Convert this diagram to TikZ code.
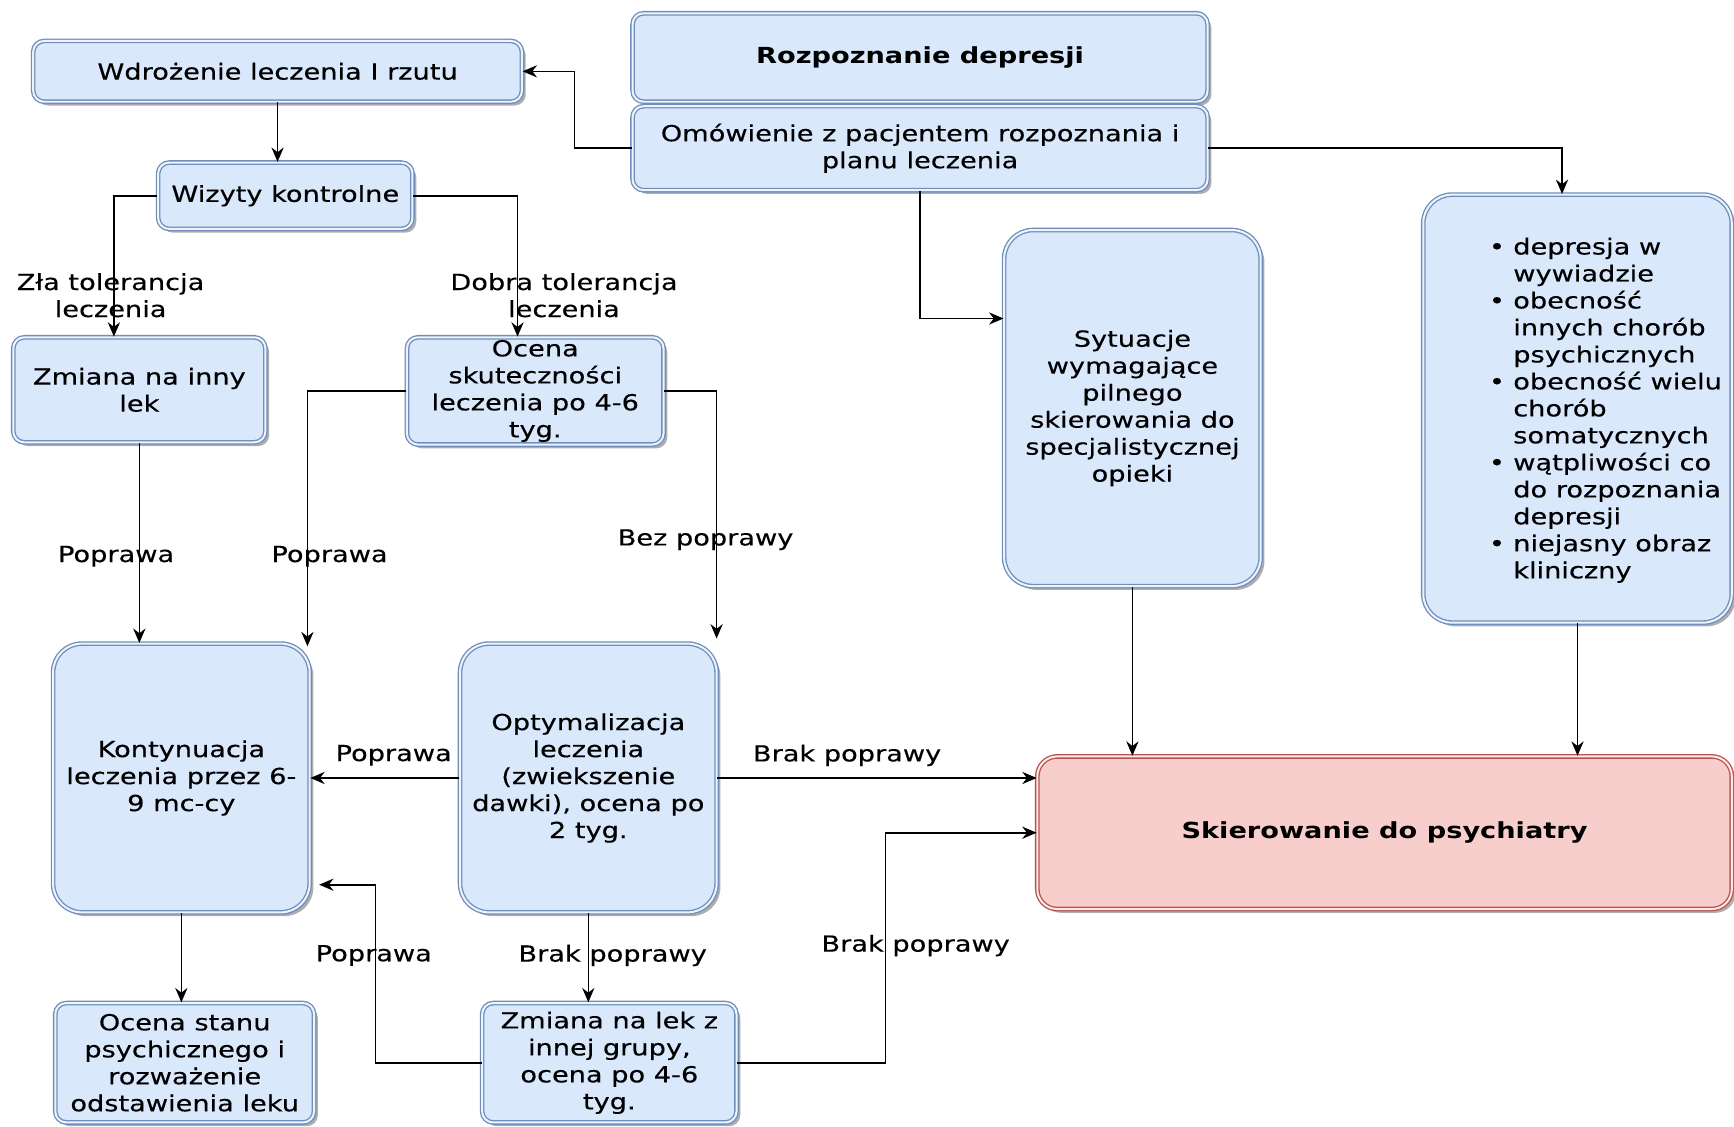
\documentclass[tikz,border=0pt]{standalone}
\usepackage{fontspec}
\setmainfont{DejaVu Sans}[FakeStretch=1.23, UprightFeatures={FakeBold=0.3}]
\usetikzlibrary{arrows.meta,shadows,calc}
\definecolor{bfill}{HTML}{DAE8FC}
\definecolor{bline}{HTML}{6F8FBA}
\definecolor{binner}{HTML}{EEF4FD}
\definecolor{rfill}{HTML}{F8CECC}
\definecolor{rline}{HTML}{B85450}
\definecolor{rinner}{HTML}{FCEAE9}
\tikzset{
  box/.style={draw=bline, double=binner, double distance=0.9pt, line width=0.6pt,
    fill=bfill, align=center, inner sep=0pt, rounded corners=5pt,
    font=\fontsize{10}{12.2}\selectfont,
    drop shadow={shadow xshift=1.7pt, shadow yshift=-1.7pt, fill=black, opacity=0.32}},
  tallbox/.style={box, rounded corners=13pt},
  redbox/.style={box, draw=rline, double=rinner, fill=rfill, rounded corners=9pt},
  arr/.style={-{Stealth[length=6.5pt,width=5.5pt]}, line width=0.75pt},
  lbl/.style={align=center, inner sep=0pt, font=\fontsize{10}{12.2}\selectfont}
}
\begin{document}
\begin{tikzpicture}[x=0.5pt,y=-0.5pt]
\useasboundingbox[fill=white] (0,0) rectangle (1568,1019);

% nodes
\node[box, minimum width=260pt, minimum height=40pt, font=\fontsize{10}{12.2}\selectfont\bfseries] (rozp) at (832,52) {Rozpoznanie depresji};
\node[box, minimum width=260pt, minimum height=38pt] (omow) at (832,134) {Omówienie z pacjentem rozpoznania i\\planu leczenia};
\node[box, minimum width=221pt, minimum height=27.5pt] (wdroz) at (251,64.5) {Wdrożenie leczenia I rzutu};
\node[box, minimum width=115pt, minimum height=30pt] (wiz) at (258,177) {Wizyty kontrolne};
\node[box, minimum width=114pt, minimum height=47.5pt] (zmi) at (126,352.5) {Zmiana na inny\\lek};
\node[box, minimum width=116pt, minimum height=48.5pt] (ocena) at (484,353.5) {Ocena\\skuteczności\\leczenia po 4-6\\tyg.};
\node[tallbox, minimum width=116pt, minimum height=121.5pt] (kont) at (164,703.5) {Kontynuacja\\leczenia przez 6-\\9 mc-cy};
\node[tallbox, minimum width=116pt, minimum height=121.5pt] (optym) at (532,703.5) {Optymalizacja\\leczenia\\(zwiekszenie\\dawki), ocena po\\2 tyg.};
\node[tallbox, minimum width=116pt, minimum height=161pt] (syt) at (1024,369) {Sytuacje\\wymagające\\pilnego\\skierowania do\\specjalistycznej\\opieki};
\node[tallbox, minimum width=139.5pt, minimum height=193.5pt] (bul) at (1426.5,369.5) {};
\node[lbl, anchor=west, align=left] (bultxt) at (1346,371) {%
\makebox[11pt][l]{•}depresja w\\
\hspace*{11pt}wywiadzie\\
\makebox[11pt][l]{•}obecność\\
\hspace*{11pt}innych chorób\\
\hspace*{11pt}psychicznych\\
\makebox[11pt][l]{•}obecność wielu\\
\hspace*{11pt}chorób\\
\hspace*{11pt}somatycznych\\
\makebox[11pt][l]{•}wątpliwości co\\
\hspace*{11pt}do rozpoznania\\
\hspace*{11pt}depresji\\
\makebox[11pt][l]{•}niejasny obraz\\
\hspace*{11pt}kliniczny};
\node[redbox, minimum width=314pt, minimum height=69pt, font=\fontsize{10}{12.2}\selectfont\bfseries] (skier) at (1252,753) {Skierowanie do psychiatry};
\node[box, minimum width=117pt, minimum height=54pt] (ocst) at (167,961) {Ocena stanu\\psychicznego i\\rozważenie\\odstawienia leku};
\node[box, minimum width=115pt, minimum height=54pt] (zmlek) at (551,961) {Zmiana na lek z\\innej grupy,\\ocena po 4-6\\tyg.};

% connectors
\draw[arr] (omow.west) -- ++(-52,0) |- (wdroz.east);
\draw[arr] (omow.east) -| ([xshift=-7pt]bul.north);
\draw[arr] (omow.south) |- ([yshift=40.5pt]syt.west);
\draw[arr] (wdroz.south) -- (wdroz.south |- wiz.north);
\draw[arr] (wiz.west) -| ([xshift=-11.5pt]zmi.north);
\draw[arr] (wiz.east) -| ([xshift=-8pt]ocena.north);
\draw[arr] (zmi.south) -- (zmi.south |- kont.north);
\draw[arr] (ocena.west) -| ([xshift=57pt,yshift=-1.5pt]kont.north);
\draw[arr] (ocena.east) -| ([xshift=58pt,yshift=2pt]optym.north);
\draw[arr] (optym.west) -- (kont.east);
\draw[arr] (optym.east) -- (optym.east -| skier.west);
\draw[arr] (syt.south) -- (syt.south |- skier.north);
\draw[arr] (bul.south) -- (bul.south |- skier.north);
\draw[arr] (kont.south) -- (kont.south |- ocst.north);
\draw[arr] (optym.south) -- (optym.south |- zmlek.north);
\draw[arr] (zmlek.west) -- ++(-96,0) |- ([xshift=4pt,yshift=-48.25pt]kont.east);
\draw[arr] (zmlek.east) -- ++(134,0) |- (skier.west);

% labels
\node[lbl] (l1) at (100,267) {Zła tolerancja\\leczenia};
\node[lbl] (l2) at (510,267) {Dobra tolerancja\\leczenia};
\node[lbl] (l3) at (105,503) {Poprawa};
\node[lbl] (l4) at (298,503) {Poprawa};
\node[lbl] (l5) at (638,488) {Bez poprawy};
\node[lbl] (l6) at (356,683) {Poprawa};
\node[lbl] (l7) at (766,683) {Brak poprawy};
\node[lbl] (l8) at (554,864) {Brak poprawy};
\node[lbl] (l9) at (338,864) {Poprawa};
\node[lbl] (l10) at (828,855) {Brak poprawy};
\end{tikzpicture}
\end{document}
